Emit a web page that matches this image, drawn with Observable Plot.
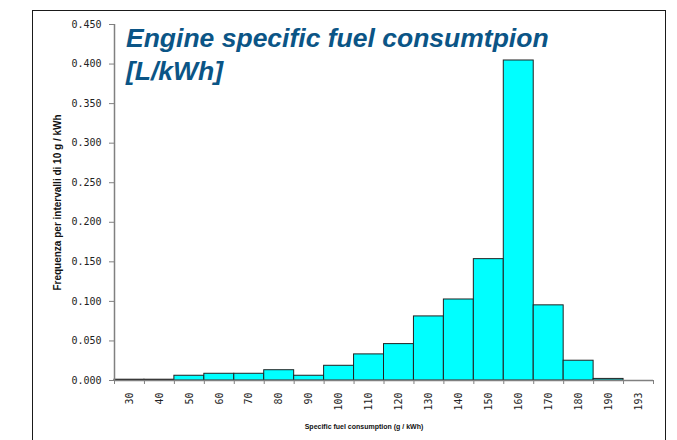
<!DOCTYPE html>
<html>
<head>
<meta charset="utf-8">
<script src="https://cdn.jsdelivr.net/npm/d3@7"></script>
<script src="https://cdn.jsdelivr.net/npm/@observablehq/plot@0.6"></script>
<style>
  html, body { margin: 0; padding: 0; background: #fff; }
  #wrap { position: relative; width: 677px; height: 440px; overflow: hidden; }
  #frame { position: absolute; left: 32px; top: 10px; width: 634px; height: 460px;
           border: 1.5px solid #1a1a1a; border-bottom: none; box-sizing: border-box; pointer-events: none; }
  #title { position: absolute; left: 126px; top: 22px; font-family: "Liberation Sans", Arial, sans-serif;
           font-weight: bold; font-style: italic; font-size: 26.5px; line-height: 33px; color: #0b5586; }
  #chart { position: absolute; left: 0; top: 0; }
</style>
</head>
<body>
<div id="wrap">
  <div id="chart"></div>
  <div id="frame"></div>
  <div id="title">Engine specific fuel consumtpion<br>[L/kWh]</div>
</div>
<script>
const categories = ["30","40","50","60","70","80","90","100","110","120","130","140","150","160","170","180","190","193"];
const values = [0.001,0.001,0.006,0.0085,0.0085,0.013,0.006,0.0186,0.033,0.046,0.081,0.1024,0.1534,0.4045,0.095,0.025,0.002,0];
const yTicks = [0,0.05,0.1,0.15,0.2,0.25,0.3,0.35,0.4,0.45];
const yLabel = "Frequenza per intervalli di 10 g / kWh";
const xLabel = "Specific fuel consumption (g / kWh)";

const data = categories.map((c, i) => ({i, c, v: values[i]}));
const boundaries = d3.range(categories.length + 1);
const centers = categories.map((c, i) => i + 0.5);

const chart = Plot.plot({
  width: 677, height: 440,
  marginLeft: 114, marginRight: 24, marginTop: 24, marginBottom: 60,
  x: {domain: [0, categories.length], axis: null},
  y: {domain: [0, 0.45], axis: null},
  style: {fontFamily: "'DejaVu Sans Mono', monospace", fontSize: "10px", color: "#222", background: "transparent"},
  marks: [
    Plot.rectY(data.filter(d => d.v > 0), {x1: "i", x2: d => d.i + 1, y: "v", fill: "#00ffff", stroke: "#222", strokeWidth: 1, inset: 0}),
    Plot.ruleY([0], {stroke: "#808080", strokeWidth: 1.5}),
    Plot.ruleX([0], {y1: 0, y2: 0.45, stroke: "#808080", strokeWidth: 1.5}),
    Plot.axisY({ticks: yTicks, tickFormat: d3.format(".3f"), tickSize: 5, tickPadding: 8, label: null, stroke: "#808080", fill: "#222"}),
    Plot.axisX({ticks: boundaries, tickFormat: () => "", tickSize: 4, label: null, stroke: "#808080"}),
    Plot.axisX({ticks: centers, tickFormat: x => categories[Math.round(x - 0.5)], tickSize: 0, tickPadding: 12, tickRotate: -90, label: null, fill: "#222"}),
    Plot.text([yLabel], {frameAnchor: "left", textAnchor: "middle", rotate: -90, dx: -57, fontFamily: "'Liberation Sans', Arial, sans-serif", fontWeight: "bold", fontSize: 10, fill: "#111"}),
    Plot.text([xLabel], {frameAnchor: "bottom", textAnchor: "middle", dx: -20, dy: 48, fontFamily: "'Liberation Sans', Arial, sans-serif", fontWeight: "bold", fontSize: 7, fill: "#111"})
  ]
});
document.getElementById("chart").appendChild(chart);
</script>
</body>
</html>
